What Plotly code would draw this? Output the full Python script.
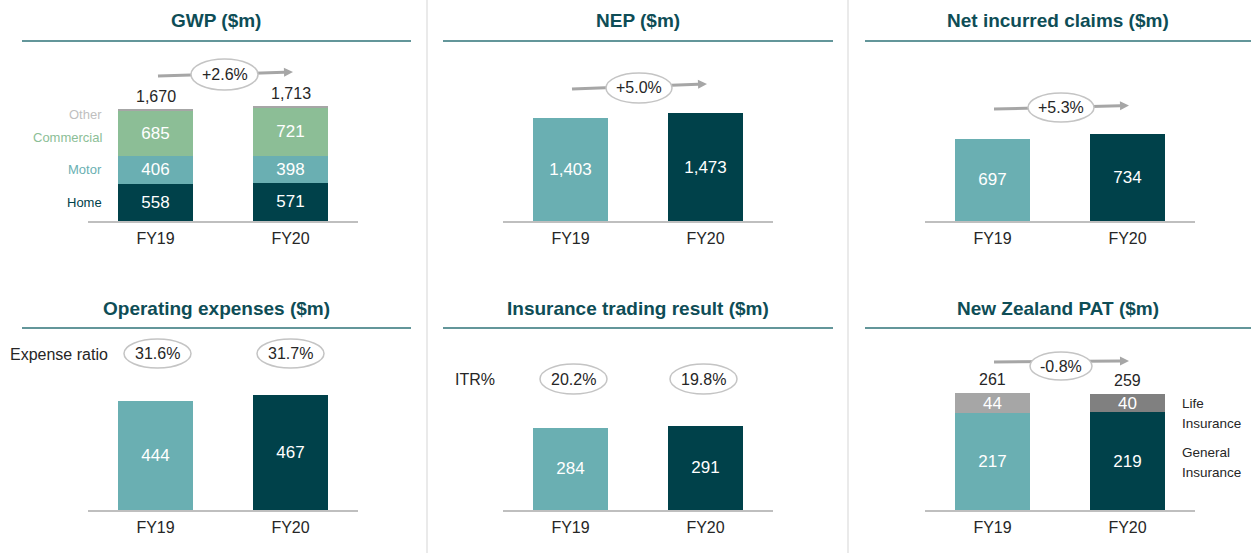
import plotly.graph_objects as go

W, H = 1251, 553

# ---- datos ----
years = ["FY19", "FY20"]

gwp_home = [558, 571]
gwp_motor = [406, 398]
gwp_commercial = [685, 721]
gwp_other = [21, 23]
gwp_total = [1670, 1713]
gwp_growth = "+2.6%"

nep = [1403, 1473]
nep_growth = "+5.0%"

claims = [697, 734]
claims_growth = "+5.3%"

opex = [444, 467]
expense_ratio = ["31.6%", "31.7%"]

itr = [284, 291]
itr_pct = ["20.2%", "19.8%"]

pat_general = [217, 219]
pat_life = [44, 40]
pat_total = [261, 259]
pat_growth = "-0.8%"

# ---- estilo ----
FONT = "Liberation Sans, Arial, sans-serif"
LIGHT = "#6AAFB2"
DARK = "#00414A"
GREEN = "#8CBE96"
GREY = "#A6A6A6"
DGREY = "#808080"
TITLE = "#0E4D56"
RULE = "#2F7378"
AXIS = "#BFBFBF"
TXT = "#262626"


def px(x):
    return x / W


def py(y):
    return 1 - y / H


fig = go.Figure()

# panel: (n, left px, right px, baseline px, ymax)
panels = [
    (1, 88, 358, 221, 2536),
    (2, 503, 773, 221, 2324),
    (3, 925, 1195, 221, 1439),
    (4, 88, 358, 510, 692),
    (5, 503, 773, 510, 587),
    (6, 925, 1195, 510, 380),
]

for n, left, right, base, ymax in panels:
    xa = "xaxis" if n == 1 else f"xaxis{n}"
    ya = "yaxis" if n == 1 else f"yaxis{n}"
    fig.update_layout({
        xa: dict(
            domain=[px(left), px(right)], anchor="y" if n == 1 else f"y{n}",
            type="category", range=[-0.5, 1.5], showline=True, linecolor=AXIS,
            linewidth=1.5, ticks="", showgrid=False, zeroline=False,
            tickfont=dict(size=16, color=TXT), ticklabelstandoff=2,
        ),
        ya: dict(
            domain=[py(base), py(base - 170)], range=[0, ymax], visible=False,
        ),
    })


def add_bar(n, vals, colors, labels=True):
    fig.add_trace(go.Bar(
        x=years, y=vals,
        xaxis="x" if n == 1 else f"x{n}",
        yaxis="y" if n == 1 else f"y{n}",
        marker=dict(color=colors, line=dict(width=0)),
        width=0.555,
        text=[f"{v:,}" for v in vals] if labels else None,
        textposition="inside" if labels else "none",
        insidetextanchor="middle",
        constraintext="none",
        textangle=0,
        textfont=dict(color="white", size=17, family=FONT),
        hoverinfo="skip",
    ))


# GWP apilado
add_bar(1, gwp_home, [DARK, DARK])
add_bar(1, gwp_motor, [LIGHT, LIGHT])
add_bar(1, gwp_commercial, [GREEN, GREEN])
add_bar(1, gwp_other, [GREY, GREY], labels=False)

add_bar(2, nep, [LIGHT, DARK])
add_bar(3, claims, [LIGHT, DARK])
add_bar(4, opex, [LIGHT, DARK])
add_bar(5, itr, [LIGHT, DARK])

add_bar(6, pat_general, [LIGHT, DARK])
add_bar(6, pat_life, [GREY, DGREY])

annotations = []
shapes = []

# totales sobre las barras
for n, totals, shift in [(1, gwp_total, 2), (6, pat_total, 3)]:
    for yr, t in zip(years, totals):
        annotations.append(dict(
            x=yr, y=t, xref="x" if n == 1 else f"x{n}", yref="y" if n == 1 else f"y{n}",
            text=f"{t:,}", showarrow=False, xanchor="center", yanchor="bottom", yshift=shift,
            font=dict(size=16, color=TXT),
        ))

# títulos y líneas
titles = [
    ("GWP ($m)", 216.5, 20, 22, 411, 41),
    ("NEP ($m)", 638, 20, 443, 833, 41),
    ("Net incurred claims ($m)", 1058, 20, 865, 1251, 41),
    ("Operating expenses ($m)", 216.5, 308, 22, 411, 328),
    ("Insurance trading result ($m)", 638, 308, 443, 833, 328),
    ("New Zealand PAT ($m)", 1058, 308, 865, 1251, 328),
]
for text, cx, cy, l, r, ly in titles:
    annotations.append(dict(
        x=px(cx), y=py(cy), xref="paper", yref="paper", text=f"<b>{text}</b>",
        showarrow=False, xanchor="center", yanchor="middle",
        font=dict(size=19, color=TITLE),
    ))
    shapes.append(dict(type="line", xref="paper", yref="paper",
                       x0=px(l), x1=px(r), y0=py(ly), y1=py(ly),
                       line=dict(color=RULE, width=1.5)))

# separadores verticales
for sx in [427, 848]:
    shapes.append(dict(type="line", xref="paper", yref="paper",
                       x0=px(sx), x1=px(sx), y0=0, y1=1,
                       line=dict(color="#E3E3E3", width=1.5)))


def ellipse(l, t, r, b, text):
    shapes.append(dict(type="circle", xref="paper", yref="paper",
                       x0=px(l), x1=px(r), y0=py(b), y1=py(t),
                       fillcolor="white", line=dict(color="#C4C4C4", width=1.5)))
    annotations.append(dict(x=px((l + r) / 2), y=py((t + b) / 2), xref="paper", yref="paper",
                            text=text, showarrow=False, xanchor="center", yanchor="middle",
                            font=dict(size=16, color=TXT)))


def arrow(x0, y0, x1, y1):
    dx, dy = x1 - x0, y1 - y0
    ln = (dx ** 2 + dy ** 2) ** 0.5
    ux, uy = dx / ln, dy / ln
    hl, hw = 9, 4.5
    bx, by = x1 - hl * ux, y1 - hl * uy
    nx, ny = -uy, ux
    shapes.append(dict(type="line", xref="paper", yref="paper",
                       x0=px(x0), y0=py(y0), x1=px(bx), y1=py(by),
                       line=dict(color=GREY, width=3)))
    path = (f"M {px(x1)} {py(y1)} L {px(bx + hw * nx)} {py(by + hw * ny)} "
            f"L {px(bx - hw * nx)} {py(by - hw * ny)} Z")
    shapes.append(dict(type="path", xref="paper", yref="paper", path=path,
                       fillcolor=GREY, line=dict(width=0)))


# flechas de crecimiento
arrow(158, 76, 293, 72)
ellipse(191, 59, 258, 90, gwp_growth)
arrow(572, 89, 707, 84)
ellipse(606, 73, 672, 103, nep_growth)
arrow(994, 109, 1129, 105.5)
ellipse(1028, 93, 1094, 122, claims_growth)
arrow(994, 362, 1129, 361)
ellipse(1030, 352, 1092, 380, pat_growth)

# ratios
ellipse(124, 339, 191, 368, expense_ratio[0])
ellipse(257, 339, 324, 368, expense_ratio[1])
ellipse(540, 364, 607, 394, itr_pct[0])
ellipse(670, 364, 737, 394, itr_pct[1])

annotations.append(dict(x=px(8), y=py(354), xref="paper", yref="paper", text="Expense ratio",
                        showarrow=False, xanchor="left", yanchor="middle",
                        font=dict(size=16, color=TXT)))
annotations.append(dict(x=px(453), y=py(379), xref="paper", yref="paper", text="ITR%",
                        showarrow=False, xanchor="left", yanchor="middle",
                        font=dict(size=16, color=TXT)))

# etiquetas de segmentos GWP
for text, y, color in [("Other", 115, "#BFBFBF"), ("Commercial", 138, GREEN),
                       ("Motor", 170, LIGHT), ("Home", 202, DARK)]:
    annotations.append(dict(x=px(104), y=py(y), xref="paper", yref="paper", text=text,
                            showarrow=False, xanchor="right", yanchor="middle",
                            font=dict(size=13, color=color)))

# etiquetas PAT (una línea cada una para controlar el interlineado)
for text, y in [("Life", 403), ("Insurance", 423), ("General", 452), ("Insurance", 472)]:
    annotations.append(dict(x=px(1180), y=py(y), xref="paper", yref="paper", text=text,
                            showarrow=False, xanchor="left", yanchor="middle",
                            font=dict(size=13.5, color=TXT)))

fig.update_layout(
    width=W, height=H,
    margin=dict(l=0, r=0, t=0, b=0),
    barmode="stack",
    showlegend=False,
    paper_bgcolor="white",
    plot_bgcolor="white",
    font=dict(family=FONT, color=TXT),
    annotations=annotations,
    shapes=shapes,
)

# sin margen del body para que la figura empiece en (0, 0)
fig.write_html("out.html", config={"displayModeBar": False},
               post_script="document.body.style.margin='0';"
                           "document.body.style.overflow='hidden';")
